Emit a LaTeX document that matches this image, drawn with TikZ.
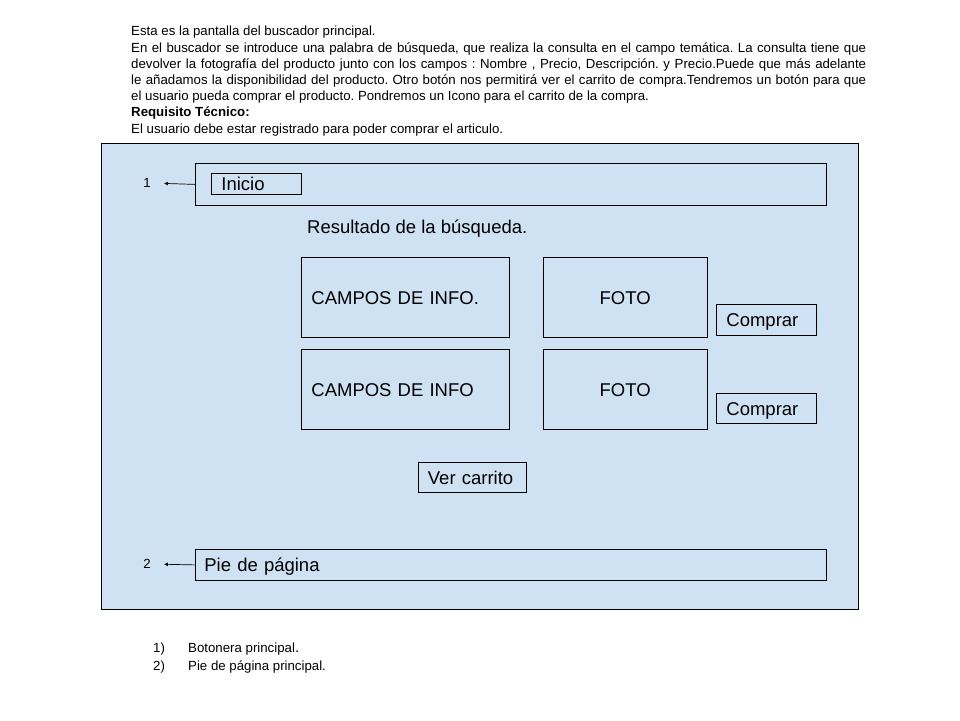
\documentclass[tikz,border=0pt]{standalone}
\usepackage{fontspec}
\setmainfont{Liberation Sans}
\usetikzlibrary{positioning, arrows.meta}
\definecolor{azulclaro}{RGB}{207,226,243}

\begin{document}
\frenchspacing
\begin{tikzpicture}[x=1pt, y=-1pt, node distance=11pt and 33pt,
   caja/.style={draw, fill=azulclaro, line width=0.8pt, inner sep=0pt, anchor=north west},
   grande/.style={font=\fontsize{18.5}{20}\selectfont, text height=15pt, text depth=1pt},
   chico/.style={font=\fontsize{13.25}{16.2}\selectfont, inner sep=0pt},
   rotulo/.style={caja, grande, align=left, inner xsep=10pt},
   flecha/.style={-{Latex[length=4pt, width=4pt]}, line width=0.7pt}]
   \useasboundingbox (0,0) rectangle (960,720);

   % Texto de la descripción
   \node[chico, anchor=north west, text width=735pt, align=justify] (descripcion) at (131,26)
     {Esta es la pantalla del buscador principal.\\
      En el buscador se introduce una palabra de búsqueda, que realiza la consulta en el campo temática. La consulta tiene que\linebreak
      devolver la fotografía del producto junto con los campos : Nombre , Precio, Descripción. y Precio.Puede que más adelante\linebreak
      le añadamos la disponibilidad del producto. Otro botón nos permitirá ver el carrito de compra.Tendremos un botón para que\linebreak
      el usuario pueda comprar el producto. Pondremos un Icono para el carrito de la compra.\\
      \textbf{Requisito Técnico:}\\
      El usuario debe estar registrado para poder comprar el articulo.};

   % Pantalla
   \node[caja, minimum width=757pt, minimum height=466pt] (pantalla) at (101,143) {};
   \node[caja, minimum width=631pt, minimum height=42pt] (cabecera) at (195,163) {};
   \node[rotulo, text width=70pt, minimum height=21pt] (inicio) at (211,173) {Inicio};
   \node[grande, anchor=west, inner sep=0pt] (resultado) at (307,226) {Resultado de la búsqueda.};

   % Resultados
   \node[rotulo, text width=188pt, minimum height=80pt] (campos1) at (301,257) {CAMPOS DE INFO.};
   \node[caja, grande, minimum width=164pt, minimum height=80pt, anchor=west, right=of campos1] (foto1) {FOTO};
   \node[rotulo, text width=188pt, minimum height=80pt, below=of campos1] (campos2) {CAMPOS DE INFO};
   \node[caja, grande, minimum width=164pt, minimum height=80pt, anchor=west, right=of campos2] (foto2) {FOTO};
   \node[rotulo, text width=80pt, minimum height=31pt] (comprar1) at (716,304) {Comprar};
   \node[rotulo, text width=80pt, minimum height=30pt] (comprar2) at (716,393) {Comprar};
   \node[rotulo, text width=89pt, minimum height=30pt, inner xsep=9.5pt] (carrito) at (418,462) {Ver carrito};

   % Pie
   \node[rotulo, text width=613pt, minimum height=31pt, inner xsep=9pt] (pie) at (195,549) {Pie de página};

   % Numeros
   \node[chico] (num1) at (147,183) {1};
   \node[chico] (num2) at (147,564) {2};
   \draw[flecha, shorten >=13pt] (cabecera.west) -- (num1.east);
   \draw[flecha, shorten >=13pt] (pie.west) -- (num2.east);

   % Leyenda
   \node[chico, anchor=west] (ley1) at (153,649) {1)};
   \node[chico, anchor=west] (botonera) at (188,649) {Botonera principal{\fontsize{15}{16}\selectfont .}};
   \node[chico, anchor=west] (ley2) at (153,667) {2)};
   \node[chico, anchor=west] (piepag) at (188,667) {Pie de página principal.};
\end{tikzpicture}
\end{document}
